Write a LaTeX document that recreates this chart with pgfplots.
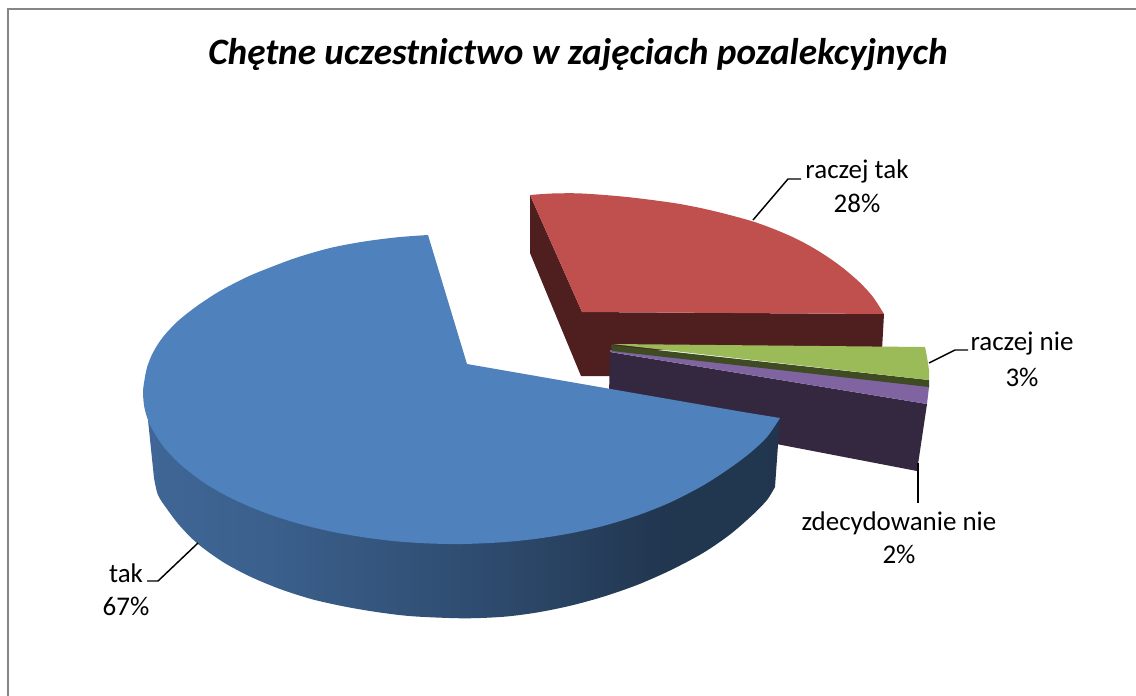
\documentclass[border=0pt]{standalone}
\usepackage{pgfplots}
\pgfplotsset{compat=1.18}
\usepackage{fontspec}
\setmainfont{Carlito}
\definecolor{bluetop}{HTML}{4F81BD}
\definecolor{redtop}{HTML}{C0504D}
\definecolor{reddark}{HTML}{4E1F1E}
\definecolor{greentop}{HTML}{9BBB59}
\definecolor{greendark}{HTML}{3F4C23}
\definecolor{purpletop}{HTML}{8064A2}
\definecolor{purpledark}{HTML}{33283F}
\definecolor{framegray}{HTML}{868686}
\pgfdeclarehorizontalshading{blueside}{100bp}{
  color(0bp)=(bluetop!88!black);
  color(15bp)=(bluetop!85!black);
  color(35bp)=(bluetop!74!black);
  color(52bp)=(bluetop!58!black);
  color(66bp)=(bluetop!42!black);
  color(100bp)=(bluetop!40!black)}
\newcommand{\lab}[1]{\fontsize{20.3}{22}\selectfont #1}
\begin{document}
\begin{tikzpicture}
\begin{axis}[
  scale only axis, width=852bp, height=522bp,
  xmin=0, xmax=1136, ymin=0, ymax=696, y dir=reverse,
  hide axis]
% page extent
\addplot[draw=none, forget plot] coordinates {(0,0) (1136,696)};
% frame
\addplot[framegray, line width=1.5pt] coordinates {(8,696) (8,9) (1136,9)};
% red slice, side then top
\addplot[fill=reddark, draw=none] coordinates {(530,195) (530,253) (581,376) (612,376) (612,350) (882,350) (884,314) (582,312)} --cycle;
\addplot[fill=redtop, draw=none, smooth] coordinates {(530,195) (552,193.5) (577,193.3) (602,194.8) (627,197) (652,200) (677,203.5) (702,208.3) (727,214.3) (753,221.5) (773,228.7) (793,237.2) (810,246) (827,256.5) (843,268) (860,282.7) (873,297) (884,314)} -- (axis cs:582,312) --cycle;
% purple slice
\addplot[fill=purpledark, draw=none] coordinates {(610,352) (927,404) (917,471) (740,437) (609,395)} --cycle;
\addplot[fill=purpletop, draw=none] coordinates {(610,350) (929,385) (929,387) (927,404) (610,352)} --cycle;
% green slice
\addplot[fill=greendark, draw=none] coordinates {(611,345) (929,380) (929,387) (612,351)} --cycle;
\addplot[fill=greentop, draw=none] coordinates {(612,344) (925,347) (927,357) (929,370) (929,380)} --cycle;
% blue slice side
\addplot[shading=blueside, draw=none, smooth] coordinates {(154,478) (158,495) (167,509) (180,526) (198,544) (223,562) (250,576.5) (280,589) (313,599.5) (347,607) (380,612.5) (413,616.3) (463,618.3) (503,616.8) (537,612.5) (570,605.8) (603,596.8) (637,585) (670,570.5) (703,553) (730,534.5) (753,514.5) (767,500) (775,487)} -- (axis cs:778,445) -- (axis cs:780,418) -- (axis cs:148,420) --cycle;
% blue slice top
\addplot[fill=bluetop, draw=none, smooth] coordinates {(428,235) (397,237.3) (363,241.7) (330,248) (297,257.5) (270,267.5) (247,277) (220,291) (197,306) (178,321) (163,337) (153,352.5) (147,367.5) (144,383) (143,393) (144.5,408) (150,425) (163,446) (180,464) (203,482) (230,497.6) (263,512) (297,523.2) (330,531.3) (363,537.2) (397,541.4) (430,543.5) (463,544) (503,542.2) (537,538.7) (570,533.4) (603,526) (637,515.6) (670,502.5) (703,485.5) (730,468) (750,453) (767,437) (780,418)} -- (axis cs:743,412) -- (axis cs:467,364) --cycle;
% leader lines
\addplot[black, line width=1.1pt] coordinates {(753,220) (788,179) (801,179)};
\addplot[black, line width=1.1pt] coordinates {(929,363) (955,350) (968,350)};
\addplot[black, line width=1.1pt] coordinates {(918,463) (918,503)};
\addplot[black, line width=1.1pt] coordinates {(198,543) (158,581) (147,581)};
% texts
\node at (axis cs:578,55) {\fontsize{28}{30}\selectfont\bfseries\itshape Chętne uczestnictwo w zajęciach pozalekcyjnych};
\node at (axis cs:857,171) {\lab{raczej tak}};
\node at (axis cs:857,203) {\lab{28\%}};
\node at (axis cs:1022,344) {\lab{raczej nie}};
\node at (axis cs:1022,377) {\lab{3\%}};
\node at (axis cs:899,523) {\lab{zdecydowanie nie}};
\node at (axis cs:899,554) {\lab{2\%}};
\node at (axis cs:126,573) {\lab{tak}};
\node at (axis cs:126,606) {\lab{67\%}};
\end{axis}
\end{tikzpicture}
\end{document}
